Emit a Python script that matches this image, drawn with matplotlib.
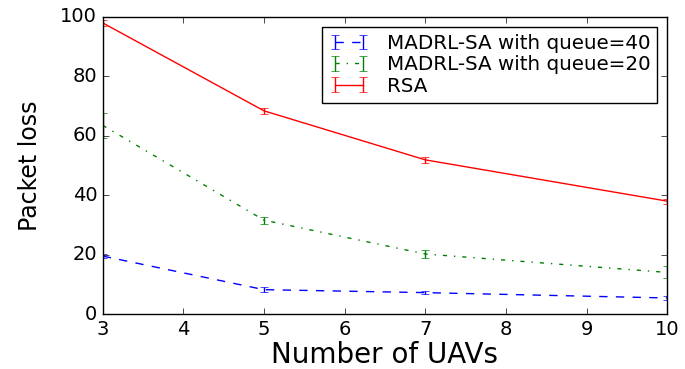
import matplotlib
matplotlib.use("Agg")
import matplotlib.pyplot as plt
from matplotlib.legend_handler import HandlerErrorbar
from matplotlib.container import ErrorbarContainer

plt.style.use("classic")
plt.rcParams["font.family"] = ["DejaVu Sans"]

uavs = [3, 5, 7, 10]

loss_q40 = [19.5, 8.2, 7.2, 5.4]
err_q40 = [0.8, 0.8, 0.6, 0.6]

loss_q20 = [63.5, 31.6, 20.2, 14.0]
err_q20 = [4.2, 1.2, 1.5, 2.0]

loss_rsa = [98.0, 68.4, 51.9, 38.0]
err_rsa = [1.0, 1.1, 1.0, 0.8]

labels = ["MADRL-SA with queue=40", "MADRL-SA with queue=20", "RSA"]

fig = plt.figure(figsize=(6.85, 3.69), dpi=100, facecolor="white")
ax = fig.add_axes([0.150, 0.149, 0.824, 0.805])
ax.set_facecolor("white")

ax.errorbar(uavs, loss_q40, yerr=err_q40, color="b", linestyle="--",
            linewidth=1, capsize=3, label=labels[0])
ax.errorbar(uavs, loss_q20, yerr=err_q20, color="g", linestyle="-.",
            linewidth=1, capsize=3, label=labels[1])
ax.errorbar(uavs, loss_rsa, yerr=err_rsa, color="r", linestyle="-",
            linewidth=1, capsize=3, label=labels[2])

ax.set_xlim(3, 10)
ax.set_ylim(0, 100)
ax.set_xticks(range(3, 11))
ax.set_yticks(range(0, 101, 20))
ax.tick_params(labelsize=14)

ax.set_xlabel("Number of UAVs", fontsize=20, labelpad=2)
ax.set_ylabel("Packet loss", fontsize=17, labelpad=13)

leg = ax.legend(loc="upper right", fontsize=14.3, frameon=True,
                labelspacing=0.12, borderpad=0.35, handletextpad=0.9,
                borderaxespad=0.5,
                handler_map={ErrorbarContainer: HandlerErrorbar(xerr_size=0.37)})
leg.get_frame().set_edgecolor("black")

fig.savefig("out.png", dpi=100, facecolor="white")
